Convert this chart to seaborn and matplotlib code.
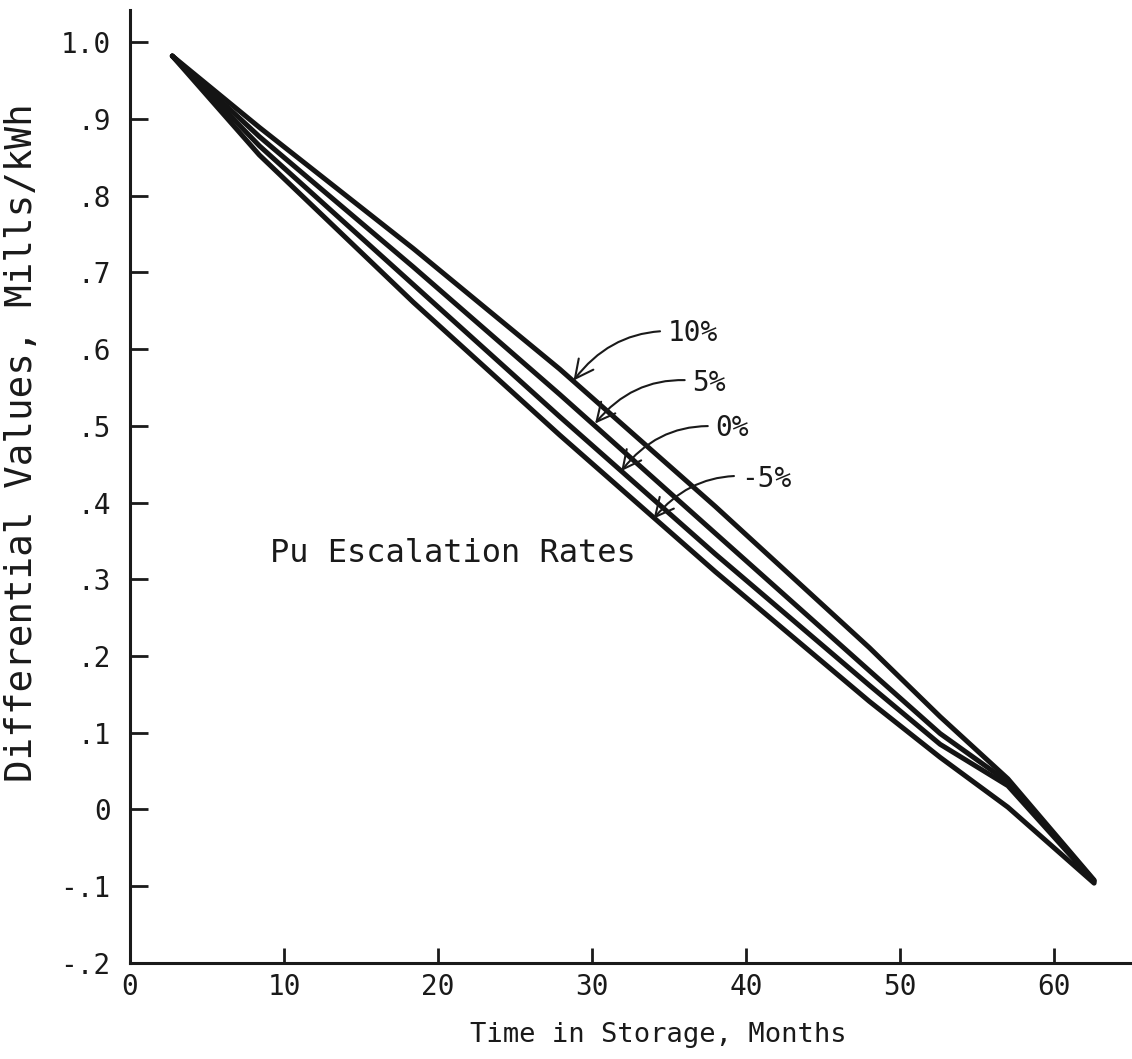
import numpy as np
import pandas as pd
import matplotlib
matplotlib.use("Agg")
import matplotlib.pyplot as plt
import seaborn as sns

# Time in storage (months) at which the curves are sampled
months = [2.75, 8.4, 18.4, 27.9, 38.0, 48.0, 52.6, 57.0, 62.6]

# Differential values (mills/kWh) for each Pu escalation rate
rate_10 = [0.982, 0.889, 0.731, 0.574, 0.395, 0.211, 0.121, 0.040, -0.092]
rate_5 = [0.982, 0.877, 0.707, 0.541, 0.360, 0.181, 0.099, 0.036, -0.093]
rate_0 = [0.982, 0.865, 0.684, 0.512, 0.333, 0.162, 0.085, 0.031, -0.094]
rate_m5 = [0.982, 0.853, 0.661, 0.488, 0.310, 0.141, 0.068, 0.003, -0.096]

rate_labels = ["10%", "5%", "0%", "-5%"]

# Arrow callouts: label anchor and the point on each curve it points to
label_pos = [(34.9, 0.621), (36.5, 0.556), (38.0, 0.497), (39.7, 0.431)]
arrow_tips = [(28.8, 0.559), (30.2, 0.503), (31.9, 0.441), (34.0, 0.379)]

x_ticks = [0, 10, 20, 30, 40, 50, 60]
y_ticks = [-0.2, -0.1, 0.0, 0.1, 0.2, 0.3, 0.4, 0.5, 0.6, 0.7, 0.8, 0.9, 1.0]
y_tick_labels = ["-.2", "-.1", "0", ".1", ".2", ".3", ".4", ".5", ".6",
                 ".7", ".8", ".9", "1.0"]

frames = []
for lab, vals in zip(rate_labels, [rate_10, rate_5, rate_0, rate_m5]):
    frames.append(pd.DataFrame({"month": months, "value": vals, "rate": lab}))
df = pd.concat(frames, ignore_index=True)

sns.set_style("ticks")
plt.rcParams["font.family"] = ["DejaVu Sans Mono", "DejaVu Sans"]
ink = "#1a1a1a"

fig = plt.figure(figsize=(11.32, 10.59), dpi=100)
ax = fig.add_axes([0.1148, 0.0907, 0.8852, 0.8999])

sns.lineplot(data=df, x="month", y="value", hue="rate", units="rate",
             estimator=None, sort=False, legend=False,
             palette={r: "#141414" for r in rate_labels},
             linewidth=3.6, solid_capstyle="round", solid_joinstyle="round",
             ax=ax)

for lab, (tx, ty), (px, py) in zip(rate_labels, label_pos, arrow_tips):
    ax.annotate(lab, xy=(px, py), xytext=(tx, ty), ha="left", va="center",
                fontsize=20, color=ink,
                arrowprops=dict(arrowstyle="->,head_length=0.6,head_width=0.3",
                                connectionstyle="arc3,rad=0.3",
                                color=ink, lw=1.5, shrinkA=3, shrinkB=0,
                                mutation_scale=22))

ax.text(9.1, 0.333, "Pu Escalation Rates", ha="left", va="center",
        fontsize=23, color=ink)

ax.set_xlim(0, 65.06)
ax.set_ylim(-0.2, 1.042)
ax.set_xticks(x_ticks)
ax.set_xticklabels([str(t) for t in x_ticks])
ax.set_yticks(y_ticks)
ax.set_yticklabels(y_tick_labels)

ax.tick_params(axis="both", direction="in", colors=ink, labelsize=20,
               width=2, labelcolor=ink)
ax.tick_params(axis="y", length=13, pad=14)
ax.tick_params(axis="x", length=11, pad=7)

for side in ["top", "right"]:
    ax.spines[side].set_visible(False)
for side in ["left", "bottom"]:
    ax.spines[side].set_linewidth(2.2)
    ax.spines[side].set_color(ink)

ax.set_xlabel("Time in Storage, Months", fontsize=19.5, color=ink)
ax.set_ylabel("Differential Values, Mills/kWh", fontsize=27, color=ink)
ax.xaxis.set_label_coords(0.527, -0.0756)
ax.yaxis.set_label_coords(-0.108, 0.546)
ax.xaxis.label.set_va("center")
ax.yaxis.label.set_va("center")

fig.savefig("out.png", dpi=100, facecolor="white")
